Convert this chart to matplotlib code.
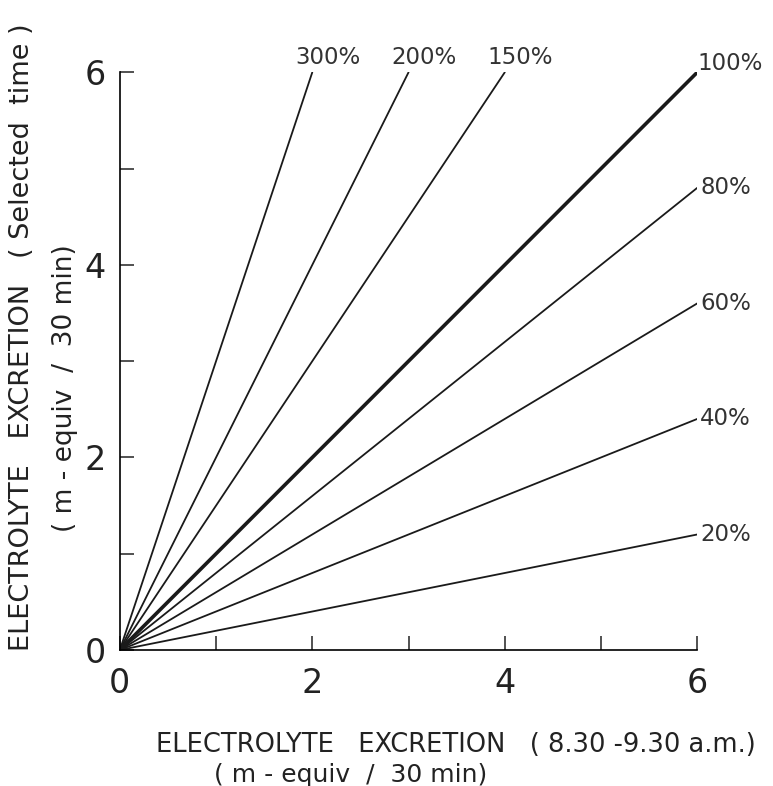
import numpy as np
import matplotlib.pyplot as plt

# ratio lines (selected time vs 8.30-9.30 am), drawn from the origin
pct_labels = ['300%', '200%', '150%', '100%', '80%', '60%', '40%', '20%']
end_x = [2, 3, 4, 6, 6, 6, 6, 6]
end_y = [6, 6, 6, 6, 4.8, 3.6, 2.4, 1.2]

major_ticks = [0, 2, 4, 6]
minor_ticks = [1, 3, 5]

plt.rcParams['font.family'] = ['DejaVu Sans']

fig = plt.figure(figsize=(7.73, 7.86), dpi=100)
ax = fig.add_axes([0.155, 0.173, 0.747, 0.735])

for lab, ex, ey in zip(pct_labels, end_x, end_y):
    lw = 2.6 if lab == '100%' else 1.3
    ax.plot([0, ex], [0, ey], color='#1a1a1a', lw=lw, solid_capstyle='round')
    if ey == 6 and ex < 6:
        # labels above the steep lines
        ax.annotate(lab, (ex, ey), xytext=(11, 11), textcoords='offset points',
                    ha='center', va='center', fontsize=16.5, color='#333333',
                    annotation_clip=False)
    elif lab == '100%':
        ax.annotate(lab, (ex, ey), xytext=(0, 6), textcoords='offset points',
                    ha='left', va='center', fontsize=16.5, color='#333333',
                    annotation_clip=False)
    else:
        ax.annotate(lab, (ex, ey), xytext=(2, 0), textcoords='offset points',
                    ha='left', va='center', fontsize=16.5, color='#333333',
                    annotation_clip=False)

ax.set_xlim(0, 6)
ax.set_ylim(0, 6)
ax.spines['top'].set_visible(False)
ax.spines['right'].set_visible(False)
ax.spines['left'].set_linewidth(1.2)
ax.spines['bottom'].set_linewidth(1.2)

ax.set_xticks(major_ticks)
ax.set_yticks(major_ticks)
ax.set_xticks(minor_ticks, minor=True)
ax.set_yticks(minor_ticks, minor=True)
ax.tick_params(which='both', direction='in', length=10, width=1.1, color='#222222')
ax.tick_params(axis='x', which='major', pad=12, labelsize=24, labelcolor='#222222')
ax.tick_params(axis='y', which='major', pad=10, labelsize=24, labelcolor='#222222')

# axis titles (two lines each)
fig.text(0.028, 0.571, 'ELECTROLYTE   EXCRETION   ( Selected  time )', rotation=90,
         ha='center', va='center', fontsize=19.5, color='#222222')
fig.text(0.084, 0.506, '( m - equiv  /  30 min)', rotation=90,
         ha='center', va='center', fontsize=19, color='#222222')
fig.text(0.59, 0.052, 'ELECTROLYTE   EXCRETION   ( 8.30 -9.30 a.m.)',
         ha='center', va='center', fontsize=18.5, color='#222222')
fig.text(0.454, 0.014, '( m - equiv  /  30 min)',
         ha='center', va='center', fontsize=18, color='#222222')

fig.savefig('out.png', dpi=100)
